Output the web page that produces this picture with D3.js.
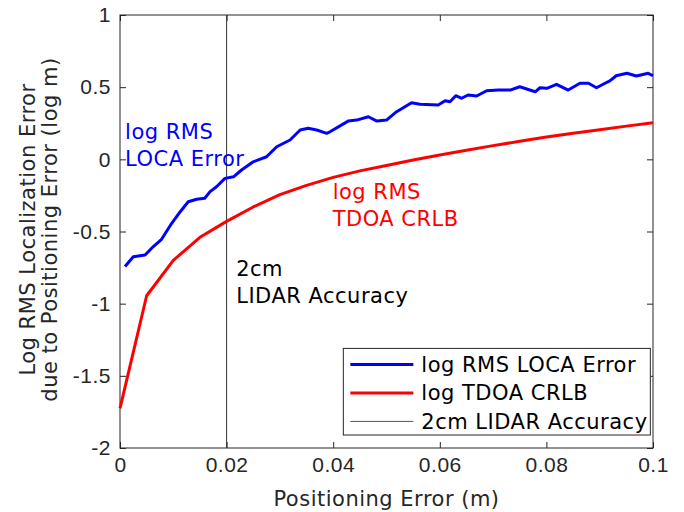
<!DOCTYPE html>
<html>
<head>
<meta charset="utf-8">
<script src="https://cdn.jsdelivr.net/npm/d3@7"></script>
<style>
  body { margin: 0; background: #fff; }
  svg { display: block; font-family: "DejaVu Sans", sans-serif; letter-spacing: 0.5px; }
</style>
</head>
<body>
<svg width="684" height="512"></svg>
<script>
// blue: log RMS LOCA error
const locaX = [0.00094,0.0025,0.0047,0.0062,0.0078,0.0097,0.0113,0.0128,0.0144,0.0159,
  0.0169,0.0181,0.0197,0.0213,0.0228,0.0250,0.0275,0.0294,0.0319,0.0338,
  0.0353,0.0369,0.0388,0.0394,0.0428,0.0444,0.0466,0.0482,0.0500,0.0519,
  0.0547,0.0563,0.0597,0.0610,0.0619,0.0630,0.0641,0.0653,0.0669,0.0688,
  0.0710,0.0732,0.0750,0.0779,0.0788,0.0801,0.0819,0.0841,0.0863,0.0879,
  0.0894,0.0910,0.0919,0.0931,0.0951,0.0969,0.0991,0.1000];
const locaY = [-0.743,-0.675,-0.663,-0.606,-0.554,-0.443,-0.363,-0.294,-0.277,-0.270,
  -0.224,-0.190,-0.132,-0.121,-0.074,-0.017,0.018,0.087,0.134,0.203,
  0.215,0.203,0.180,0.191,0.265,0.272,0.295,0.265,0.272,0.330,
  0.392,0.381,0.376,0.406,0.399,0.441,0.423,0.446,0.439,0.475,
  0.480,0.480,0.503,0.468,0.496,0.492,0.520,0.480,0.527,0.527,
  0.496,0.527,0.543,0.579,0.596,0.577,0.596,0.579];

// red: log TDOA CRLB
const crlbX = [0,0.005,0.01,0.015,0.02,0.025,0.03,0.035,0.04,0.045,0.05,
  0.055,0.06,0.065,0.07,0.075,0.08,0.085,0.09,0.095,0.1];
const crlbY = [-1.725,-0.945,-0.70,-0.54,-0.43,-0.33,-0.245,-0.18,-0.125,-0.08,-0.043,
  -0.005,0.03,0.063,0.095,0.125,0.155,0.18,0.205,0.23,0.254];

const lidarX = 0.02;

const xTicks = [0,0.02,0.04,0.06,0.08,0.1];
const yTicks = [-2,-1.5,-1,-0.5,0,0.5,1];

const legendLabels = ['log RMS LOCA Error','log TDOA CRLB','2cm LIDAR Accuracy'];

const svg = d3.select('svg');
const margin = { top:15, right:31, bottom:64, left:120 };
const width = +svg.attr('width') - margin.left - margin.right;
const height = +svg.attr('height') - margin.top - margin.bottom;
const axisCol = '#262626';

const x = d3.scaleLinear().domain([0,0.1]).range([0,width]);
const y = d3.scaleLinear().domain([-2,1]).range([height,0]);

const g = svg.append('g').attr('transform',`translate(${margin.left},${margin.top})`);

const fmt = d => String(d);
const styleAxis = sel => {
  sel.select('.domain').remove();
  sel.selectAll('line').attr('stroke',axisCol);
  sel.selectAll('text').attr('fill',axisCol).style('font-size','21px');
};

g.append('g').attr('transform',`translate(0,${height})`)
  .call(d3.axisBottom(x).tickValues(xTicks).tickFormat(fmt).tickSizeInner(-6).tickSizeOuter(0).tickPadding(9))
  .call(styleAxis);
g.append('g')
  .call(d3.axisTop(x).tickValues(xTicks).tickFormat('').tickSizeInner(-6).tickSizeOuter(0))
  .call(styleAxis);
g.append('g')
  .call(d3.axisLeft(y).tickValues(yTicks).tickFormat(fmt).tickSizeInner(-6).tickSizeOuter(0).tickPadding(9))
  .call(styleAxis);
g.append('g').attr('transform',`translate(${width},0)`)
  .call(d3.axisRight(y).tickValues(yTicks).tickFormat('').tickSizeInner(-6).tickSizeOuter(0))
  .call(styleAxis);

g.append('rect').attr('width',width).attr('height',height)
  .attr('fill','none').attr('stroke',axisCol).attr('stroke-width',1);

// vertical LIDAR accuracy line
g.append('line')
  .attr('x1',x(lidarX)).attr('x2',x(lidarX)).attr('y1',0).attr('y2',height)
  .attr('stroke','#333').attr('stroke-width',1);

const line = d3.line().x(d => x(d[0])).y(d => y(d[1]));

g.append('path').datum(d3.zip(crlbX,crlbY))
  .attr('d',line).attr('fill','none').attr('stroke','#ff0000').attr('stroke-width',3)
  .attr('stroke-linejoin','round');
g.append('path').datum(d3.zip(locaX,locaY))
  .attr('d',line).attr('fill','none').attr('stroke','#0000ff').attr('stroke-width',3)
  .attr('stroke-linejoin','round');

// annotations
const note = (lines, px, py, col) => {
  const t = g.append('text').attr('x',x(px)).attr('y',y(py))
    .attr('fill',col).style('font-size','21px');
  lines.forEach((s,i) => t.append('tspan').attr('x',x(px)).attr('dy',i ? 26.5 : 0).text(s));
};
note(['log RMS','LOCA Error'], 0.00095, 0.14, '#0000ff');
note(['log RMS','TDOA CRLB'], 0.0399, -0.275, '#ff0000');
note(['2cm','LIDAR Accuracy'], 0.0218, -0.81, '#000');

// legend
const lg = g.append('g').attr('transform',`translate(${x(0.0419)},${y(-1.31)})`);
lg.append('rect').attr('width',x(0.0995)-x(0.0419)).attr('height',y(-1.91)-y(-1.31))
  .attr('fill','#fff').attr('stroke',axisCol).attr('stroke-width',1);
const legCols = ['#0000ff','#ff0000','#555'];
const legW = [3,3,1];
legendLabels.forEach((s,i) => {
  const yy = 16 + i*28.5;
  lg.append('line').attr('x1',7).attr('x2',70).attr('y1',yy).attr('y2',yy)
    .attr('stroke',legCols[i]).attr('stroke-width',legW[i]);
  lg.append('text').attr('x',78).attr('y',yy).attr('dy','0.36em')
    .attr('fill','#000').style('font-size','21px').text(s);
});

// axis titles
svg.append('text')
  .attr('x',margin.left + width/2).attr('y',506)
  .attr('text-anchor','middle').attr('fill',axisCol).style('font-size','21px')
  .text('Positioning Error (m)');
const yl = svg.append('text')
  .attr('transform',`translate(35,${margin.top + height/2 - 2}) rotate(-90)`)
  .attr('text-anchor','middle').attr('fill',axisCol).style('font-size','21px');
yl.append('tspan').attr('x',0).attr('y',0).text('Log RMS Localization Error');
yl.append('tspan').attr('x',0).attr('y',22).text('due to Positioning Error (log m)');
</script>
</body>
</html>
